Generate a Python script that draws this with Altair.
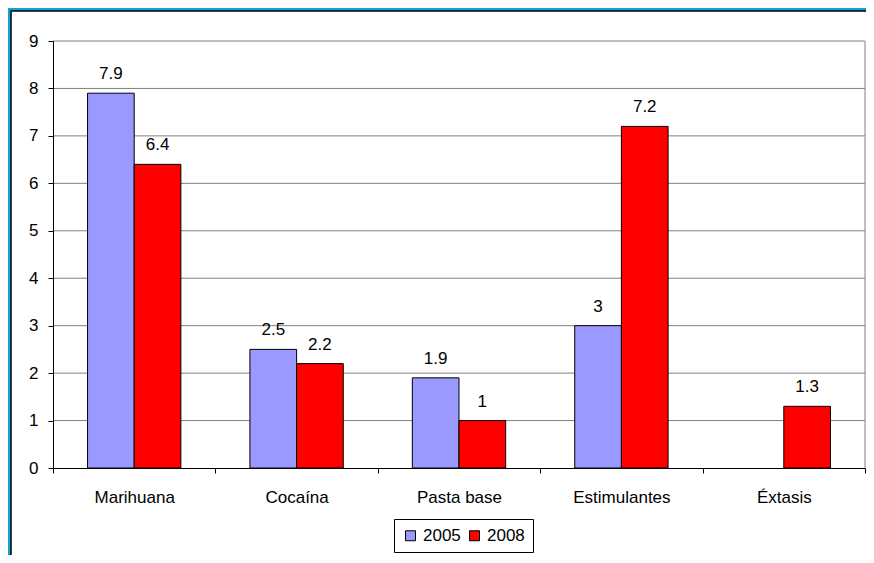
import altair as alt
import pandas as pd

categories = ["Marihuana", "Cocaína", "Pasta base", "Estimulantes", "Éxtasis"]
years = ["2005", "2008"]
values_2005 = [7.9, 2.5, 1.9, 3.0, None]
values_2008 = [6.4, 2.2, 1.0, 7.2, 1.3]
y_ticks = [0, 1, 2, 3, 4, 5, 6, 7, 8, 9]
grid_values = [1, 2, 3, 4, 5, 6, 7, 8, 9]

BLUE = "#9999FF"
RED = "#FF0000"
FRAME_BG = "#12A3D6"
FONT = "Liberation Sans"
FS = 17
W, H = 812, 427

rows = []
for cat, v5, v8 in zip(categories, values_2005, values_2008):
    for yr, v in (("2005", v5), ("2008", v8)):
        if v is not None:
            rows.append({"cat": cat, "year": yr, "value": v, "label": f"{v:g}"})
df = pd.DataFrame(rows)

x_enc = alt.X(
    "cat:N",
    sort=categories,
    scale=alt.Scale(domain=categories, paddingInner=0, paddingOuter=0),
    axis=alt.Axis(
        title=None, labelAngle=0, tickBand="extent", domainColor="black",
        tickColor="black", tickSize=5, labelPadding=16, labelFontSize=FS,
        labelFont=FONT, labelColor="black", grid=False, zindex=1,
    ),
)
xoff = alt.XOffset("year:N", scale=alt.Scale(domain=years, paddingOuter=0.74, paddingInner=0))
y_enc = alt.Y(
    "value:Q",
    scale=alt.Scale(domain=[0, 9], nice=False),
    axis=alt.Axis(
        title=None, values=y_ticks, grid=False, domainColor="black",
        tickColor="black", tickSize=5, labelPadding=10, labelFontSize=FS,
        labelFont=FONT, labelColor="black", zindex=1,
    ),
)

one = pd.DataFrame({"k": [0]})

panel = alt.Chart(one).mark_rect(fill="white", stroke="black", strokeWidth=1.5).encode(
    x=alt.value(-42), x2=alt.value(840), y=alt.value(-30), y2=alt.value(560)
)

grid = alt.Chart(pd.DataFrame({"value": grid_values})).mark_rule(
    color="#808080", strokeWidth=1
).encode(y=y_enc, x=alt.value(0), x2=alt.value(W))

right_edge = alt.Chart(one).mark_rule(color="#808080", strokeWidth=1).encode(
    x=alt.value(W), y=alt.value(0), y2=alt.value(H)
)

bars = alt.Chart(df).mark_bar(stroke="black", strokeWidth=1).encode(
    x=x_enc,
    xOffset=xoff,
    y=y_enc,
    color=alt.Color(
        "year:N",
        scale=alt.Scale(domain=years, range=[BLUE, RED]),
        legend=alt.Legend(
            title=None, orient="none", legendX=341, legendY=478,
            direction="horizontal", fillColor="white", strokeColor="black",
            padding=8, symbolType="square", symbolSize=100,
            symbolStrokeColor="black", symbolStrokeWidth=1, symbolOpacity=1,
            labelFontSize=FS, labelFont=FONT, labelColor="black",
            labelOffset=4, columnPadding=5, zindex=1,
        ),
    ),
)

labels = alt.Chart(df).mark_text(
    baseline="alphabetic", dy=-14, fontSize=FS, font=FONT, color="black"
).encode(x=x_enc, xOffset=xoff, y=y_enc, text="label:N")

chart = (
    alt.layer(panel, grid, right_edge, bars, labels)
    .properties(
        width=W, height=H,
        autosize=alt.AutoSizeParams(type="none"),
        padding={"left": 45, "top": 33, "right": 1, "bottom": 87},
        background=FRAME_BG,
    )
    .configure_view(stroke=None)
)

chart.save("out.html", embed_options={"renderer": "svg", "actions": False})
